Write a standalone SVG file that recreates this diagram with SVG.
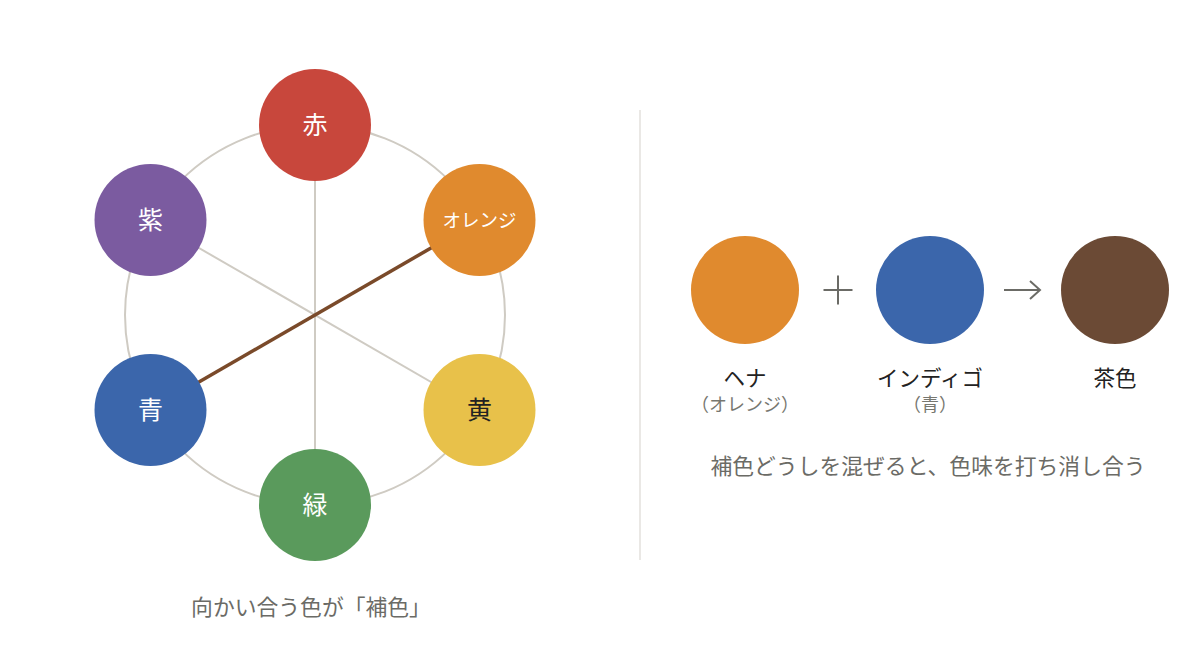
<svg xmlns="http://www.w3.org/2000/svg" width="1200" height="660" viewBox="0 0 1200 660">
<style>
text{font-family:"Noto Sans CJK JP","Noto Sans",sans-serif;text-anchor:middle}
.lbl{fill:#ffffff;font-size:25px}
.cap{fill:#6b6b66;font-size:21.8px}
.name{fill:#222222;font-size:21.5px}
.sub{fill:#777770;font-size:18px}
.ring{fill:none;stroke:#cfcbc3;stroke-width:2}
.spoke{stroke:#cfcbc3;stroke-width:2}
</style>
<rect width="1200" height="660" fill="#ffffff"/>
<g id="connectors">
<circle class="ring" cx="315" cy="315" r="190"/>
<line class="spoke" x1="315" y1="125" x2="315" y2="505"/>
<line class="spoke" x1="150.5" y1="220" x2="479.5" y2="410"/>
<line x1="150.5" y1="410" x2="479.5" y2="220" stroke="#7a4a2a" stroke-width="3.5"/>
</g>
<g id="node-red"><circle cx="315" cy="125" r="56" fill="#c8473c"/><text class="lbl" x="315" y="134">赤</text></g>
<g id="node-orange"><circle cx="479.5" cy="220" r="56" fill="#e08a2e"/><text class="lbl" x="479.5" y="227" style="font-size:18.5px">オレンジ</text></g>
<g id="node-yellow"><circle cx="479.5" cy="410" r="56" fill="#e8c14a"/><text class="lbl" x="479.5" y="419" style="fill:#222222">黄</text></g>
<g id="node-green"><circle cx="315" cy="505" r="56" fill="#5a9a5c"/><text class="lbl" x="315" y="514">緑</text></g>
<g id="node-blue"><circle cx="150.5" cy="410" r="56" fill="#3b66ab"/><text class="lbl" x="150.5" y="419">青</text></g>
<g id="node-purple"><circle cx="150.5" cy="220" r="56" fill="#7b5ba0"/><text class="lbl" x="150.5" y="229">紫</text></g>
<text class="cap" x="311" y="615">向かい合う色が「補色」</text>
<line x1="640" y1="110" x2="640" y2="560" stroke="#e3e1dc" stroke-width="1.5"/>
<g id="henna"><circle cx="745" cy="290" r="54" fill="#e08a2e"/><text class="name" x="745" y="386">ヘナ</text><text class="sub" x="745" y="411">（オレンジ）</text></g>
<g id="plus"><line x1="823.5" y1="290" x2="852.5" y2="290" stroke="#6b6b66" stroke-width="2"/><line x1="838" y1="275.5" x2="838" y2="304.5" stroke="#6b6b66" stroke-width="2"/></g>
<g id="indigo"><circle cx="930" cy="290" r="54" fill="#3b66ab"/><text class="name" x="930" y="386">インディゴ</text><text class="sub" x="930" y="411">（青）</text></g>
<g id="arrow"><line x1="1004" y1="290" x2="1040" y2="290" stroke="#6b6b66" stroke-width="2"/><polyline points="1030,281 1040,290 1030,299" fill="none" stroke="#6b6b66" stroke-width="2"/></g>
<g id="brown"><circle cx="1115" cy="290" r="54" fill="#6b4a35"/><text class="name" x="1115" y="386">茶色</text></g>
<text class="cap" x="928" y="474">補色どうしを混ぜると、色味を打ち消し合う</text>
</svg>
